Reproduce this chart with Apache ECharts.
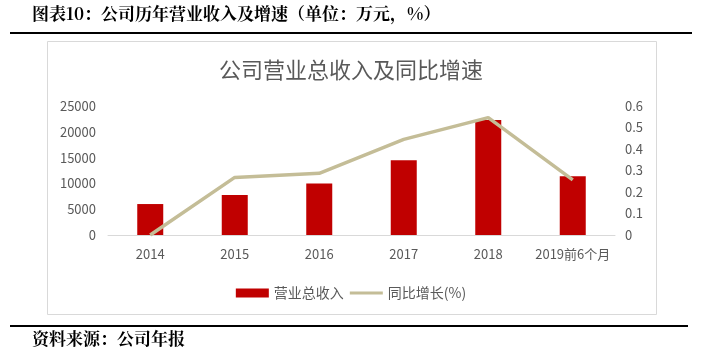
<!DOCTYPE html>
<html>
<head>
<meta charset="utf-8">
<script src="https://cdn.jsdelivr.net/npm/echarts@6/dist/echarts.min.js"></script>
<style>
html,body{margin:0;padding:0;background:#fff;}
#c{width:702px;height:355px;}
</style>
</head>
<body>
<div id="c"></div>
<script>
const categories = ['2014','2015','2016','2017','2018','2019前6个月'];
const revenue = [6000, 7750, 10000, 14500, 22300, 11400];
const growth = [0, 0.268, 0.287, 0.445, 0.546, 0.256];
const leftTicks = [0, 5000, 10000, 15000, 20000, 25000];
const rightTicks = [0, 0.1, 0.2, 0.3, 0.4, 0.5, 0.6];
const headerText = '图表10：公司历年营业收入及增速（单位：万元，%）';
const chartTitle = '公司营业总收入及同比增速';
const sourceText = '资料来源：公司年报';
const revenueName = '营业总收入';
const growthName = '同比增长(%)';

const chart = echarts.init(document.getElementById('c'), null, {renderer:'canvas'});
const grey = '#595959';
const font = '"Microsoft YaHei","Noto Sans CJK SC",sans-serif';
const serifFont = '"Noto Serif CJK SC","Liberation Serif","Noto Sans CJK SC",serif';
chart.setOption({
  animation:false,
  backgroundColor:'#fff',
  textStyle:{fontFamily:font},
  title:{
    text:chartTitle, left:'center', top:54,
    textStyle:{fontSize:22, fontWeight:'normal', color:grey, fontFamily:font}
  },
  legend:{
    top:281, left:'center',
    itemWidth:33, itemHeight:9, itemGap:6,
    textStyle:{fontSize:14, color:grey, fontFamily:font},
    data:[
      {name:revenueName, icon:'rect'},
      {name:growthName, icon:'path://M0,0H33V3H0Z'}
    ]
  },
  grid:{left:108, right:87, top:106, bottom:120, containLabel:false},
  xAxis:{
    type:'category', data:categories,
    axisLine:{lineStyle:{color:'#d9d9d9', width:1}},
    axisTick:{show:false},
    axisLabel:{color:grey, fontSize:13, margin:13, interval:0}
  },
  yAxis:[
    {type:'value', min:leftTicks[0], max:leftTicks[leftTicks.length-1], interval:5000,
     splitLine:{show:false}, axisLine:{show:false}, axisTick:{show:false},
     axisLabel:{color:grey, fontSize:13, margin:12, formatter:v=>String(v)}},
    {type:'value', min:rightTicks[0], max:rightTicks[rightTicks.length-1], interval:0.1,
     splitLine:{show:false}, axisLine:{show:false}, axisTick:{show:false},
     axisLabel:{color:grey, fontSize:13, margin:10,
       formatter:v=> v===0 ? '0' : (Math.round(v*10)/10).toString()}}
  ],
  series:[
    {name:revenueName, type:'bar', data:revenue, barWidth:26, yAxisIndex:0,
     itemStyle:{color:'#C00000'}},
    {name:growthName, type:'line', data:growth, yAxisIndex:1, symbol:'none',
     lineStyle:{color:'#C4BD97', width:3.5}, itemStyle:{color:'#C4BD97'}}
  ],
  graphic:[
    {type:'text', left:32, top:5, style:{text:headerText, fontSize:17, fontWeight:'bold', fill:'#000', fontFamily:serifFont}},
    {type:'line', shape:{x1:10,y1:33,x2:692,y2:33}, style:{stroke:'#000', lineWidth:2}},
    {type:'rect', shape:{x:47.5,y:41.5,width:609,height:273}, style:{fill:'none', stroke:'#d9d9d9', lineWidth:1}, z:-1},
    {type:'line', shape:{x1:10,y1:326,x2:688,y2:326}, style:{stroke:'#000', lineWidth:2}},
    {type:'text', left:32, top:330, style:{text:sourceText, fontSize:17, fontWeight:'bold', fill:'#000', fontFamily:serifFont}}
  ]
});
</script>
</body>
</html>
